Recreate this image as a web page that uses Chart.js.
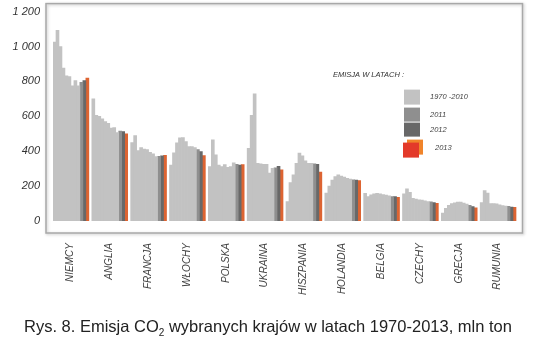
<!DOCTYPE html>
<html>
<head>
<meta charset="utf-8">
<script src="https://cdn.jsdelivr.net/npm/chart.js@4/dist/chart.umd.min.js"></script>
<style>
    html, body { margin: 0; padding: 0; background: #fff; }
    #wrap { position: relative; width: 536px; height: 345px; }
    #caption {
        position: absolute; left: 0; width: 536px; top: 317px;
        text-align: center; font-family: "Liberation Sans", Arial, sans-serif;
        font-size: 16.5px; color: #222; white-space: nowrap;
    }
    #caption sub { font-size: 10px; vertical-align: -4px; line-height: 0; }
</style>
</head>
<body>
<div id="wrap">
    <canvas id="chart" width="536" height="345"></canvas>
    <div id="caption">Rys. 8. Emisja CO<sub>2</sub> wybranych krajów w latach 1970-2013, mln ton</div>
</div>
<script>
// Emisja CO2, mln ton
const countries = ['NIEMCY', 'ANGLIA', 'FRANCJA', 'WŁOCHY', 'POLSKA', 'UKRAINA',
    'HISZPANIA', 'HOLANDIA', 'BELGIA', 'CZECHY', 'GRECJA', 'RUMUNIA'];

// 1970-2010 (co 5 lat)
const years7010 = [
    [1026, 1092, 1000, 877, 832, 827, 775, 804, 775],
    [700, 605, 600, 585, 570, 560, 532, 535, 507],
    [450, 490, 404, 421, 412, 410, 394, 385, 369],
    [321, 390, 448, 476, 478, 455, 427, 427, 421],
    [312, 465, 379, 321, 312, 324, 308, 312, 333],
    [417, 605, 729, 331, 327, 325, 325, 274, 302],
    [111, 220, 264, 331, 389, 373, 345, 331, 331],
    [160, 200, 235, 255, 264, 258, 252, 245, 240],
    [158, 140, 150, 155, 158, 155, 152, 148, 144],
    [155, 185, 165, 130, 125, 122, 120, 115, 112],
    [45, 72, 90, 100, 104, 108, 108, 103, 97],
    [105, 175, 160, 100, 100, 98, 92, 88, 85]
];
const year2011 = [794, 516, 371, 410, 325, 305, 328, 236, 140, 110, 90, 84];
const year2012 = [804, 513, 373, 398, 321, 314, 325, 234, 140, 106, 82, 80];
const year2013 = [819, 500, 377, 375, 324, 293, 280, 232, 136, 101, 75, 78];

const yTicks = [0, 200, 400, 600, 800, 1000, 1200];

const seriesNames = ['1970 -2010', '2011', '2012', '2013'];
const seriesColors = ['#c2c2c2', '#8f8f8f', '#686868', '#dd6432'];

// one slot per bar, plus one empty slot between countries
const slotLabels = [];
const slotData = [[], [], [], []];
countries.forEach((c, ci) => {
    const vals = [years7010[ci], [year2011[ci]], [year2012[ci]], [year2013[ci]]];
    vals.forEach((arr, si) => {
        arr.forEach(v => {
            slotLabels.push(c);
            slotData.forEach((d, k) => d.push(k === si ? v : null));
        });
    });
    slotLabels.push('');
    slotData.forEach(d => d.push(null));
});

function fmt(v) {
    return String(v).replace(/\B(?=(\d{3})+(?!\d))/g, ' ');
}

// ramka wokol wykresu
const framePlugin = {
    id: 'frame',
    beforeDatasetsDraw(chart) {
        const a = chart.chartArea;
        const ctx = chart.ctx;
        ctx.save();
        ctx.shadowColor = 'rgba(0,0,0,0.25)';
        ctx.shadowBlur = 3;
        ctx.shadowOffsetX = 1;
        ctx.shadowOffsetY = 1;
        ctx.strokeStyle = '#a8a8a8';
        ctx.lineWidth = 1.5;
        ctx.strokeRect(a.left - 7, a.top - 8, a.right - a.left + 10.5, a.bottom - a.top + 20);
        ctx.restore();
    }
};

// legenda wewnatrz obszaru wykresu
const legendPlugin = {
    id: 'boxLegend',
    afterDraw(chart) {
        const ctx = chart.ctx;
        const a = chart.chartArea;
        const x0 = a.left + 280;
        const y0 = a.top + 63;
        ctx.save();
        ctx.font = 'italic 7.5px "Liberation Sans", Arial, sans-serif';
        ctx.fillStyle = '#333';
        ctx.textBaseline = 'middle';
        ctx.fillText('EMISJA W LATACH :', x0, y0);

        const bx = x0 + 71;
        const rows = [y0 + 15, y0 + 33, y0 + 48];
        chart.data.datasets.forEach((ds, i) => {
            if (i < 3) {
                ctx.fillStyle = ds.backgroundColor;
                ctx.fillRect(bx, rows[i], 16, i === 0 ? 15 : 14);
                ctx.fillStyle = '#444';
                ctx.fillText(ds.label, bx + 26, rows[i] + 7);
            } else {
                ctx.fillStyle = '#f0842a';
                ctx.fillRect(bx + 3, y0 + 65, 16, 15);
                ctx.fillStyle = '#e33a2a';
                ctx.fillRect(bx - 1, y0 + 68, 16, 15);
                ctx.fillStyle = '#444';
                ctx.fillText(ds.label, bx + 31, y0 + 73);
            }
        });
        ctx.restore();
    }
};

new Chart(document.getElementById('chart'), {
    type: 'bar',
    data: {
        labels: slotLabels,
        datasets: seriesNames.map((name, i) => ({
            label: name,
            data: slotData[i],
            backgroundColor: seriesColors[i],
            borderWidth: 0,
            barPercentage: 1,
            categoryPercentage: 1,
            xAxisID: 'x'
        }))
    },
    options: {
        responsive: false,
        animation: false,
        layout: { padding: { left: 0, right: 17, top: 6, bottom: 0 } },
        plugins: {
            legend: { display: false },
            tooltip: { enabled: false }
        },
        scales: {
            x: {
                display: false,
                stacked: true
            },
            countries: {
                axis: 'x',
                type: 'category',
                labels: countries,
                position: 'bottom',
                offset: true,
                grid: { display: false },
                border: { display: false },
                ticks: {
                    autoSkip: false,
                    maxRotation: 90,
                    minRotation: 90,
                    padding: 14,
                    labelOffset: -2,
                    color: '#444',
                    font: { family: '"Liberation Sans", Arial, sans-serif', size: 10, style: 'italic' }
                },
                afterFit: (scale) => { scale.height = 124; }
            },
            y: {
                min: yTicks[0],
                max: yTicks[yTicks.length - 1],
                grid: { display: false },
                border: { display: false },
                afterFit: (scale) => { scale.width = 53; },
                afterBuildTicks: (scale) => { scale.ticks = yTicks.map(v => ({ value: v })); },
                ticks: {
                    padding: 5,
                    color: '#333',
                    font: { family: '"Liberation Sans", Arial, sans-serif', size: 11, style: 'italic' },
                    callback: (v) => fmt(v)
                }
            }
        }
    },
    plugins: [framePlugin, legendPlugin]
});
</script>
</body>
</html>
